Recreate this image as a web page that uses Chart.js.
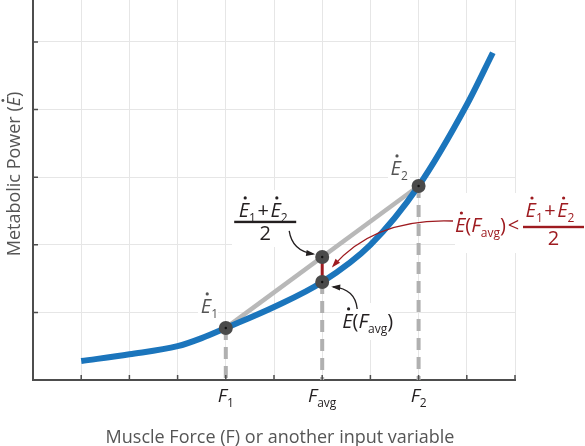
<!DOCTYPE html>
<html>
<head>
<meta charset="utf-8">
<script src="https://cdn.jsdelivr.net/npm/chart.js@4.4.0/dist/chart.umd.min.js"></script>
<style>
  html, body { margin: 0; padding: 0; background: #fff; }
</style>
</head>
<body>
<canvas id="chart" width="585" height="446"></canvas>
<script>
// blue curve (force on x, metabolic power on y)
var curveF = [1, 2, 3, 3.5, 4, 5, 6, 7, 8, 9, 9.54];
var curveE = [0.28, 0.38, 0.50, 0.62, 0.77, 1.08, 1.45, 2.0, 2.87, 4.07, 4.84];

// the three marked forces: F1, Favg, F2 and the power at each
var markF = [4, 6, 8];
var markE = [0.77, 1.45, 2.87];
var markSub = ['1', 'avg', '2'];

// grid steps
var gridF = [0, 1, 2, 3, 4, 5, 6, 7, 8, 9, 10];
var gridE = [0, 1, 2, 3, 4, 5];

var FONT = '"Open Sans", sans-serif';
var RED = '#9e1b20';
var midE = (markE[0] + markE[2]) / 2;

function pts(xs, ys) {
    return xs.map(function (x, i) { return { x: x, y: ys[i] }; });
}

// dashed drops from each marked point to the axis
var drops = markF.map(function (f, i) {
    return {
        data: [{ x: f, y: markE[i] }, { x: f, y: 0 }],
        showLine: true,
        borderColor: '#b0b0b0',
        borderWidth: 4,
        borderDash: [12, 7],
        pointRadius: 0,
        order: 5
    };
});

var datasets = drops.concat([
    {
        // chord between E1 and E2
        data: pts([markF[0], markF[2]], [markE[0], markE[2]]),
        showLine: true,
        borderColor: '#b8b8b8',
        borderWidth: 4.5,
        pointRadius: 0,
        order: 4
    },
    {
        data: pts(curveF, curveE),
        showLine: true,
        borderColor: '#1b75bc',
        borderWidth: 6,
        borderCapStyle: 'butt',
        cubicInterpolationMode: 'monotone',
        pointRadius: 0,
        order: 3
    },
    {
        // gap between the chord and the curve at Favg
        data: [{ x: markF[1], y: markE[1] }, { x: markF[1], y: midE }],
        showLine: true,
        borderColor: RED,
        borderWidth: 3,
        pointRadius: 0,
        order: 2
    },
    {
        data: pts(markF.concat([markF[1]]), markE.concat([midE])),
        pointRadius: 7,
        pointBackgroundColor: '#4a4a4a',
        pointBorderWidth: 0,
        order: 1
    },
    {
        data: pts(markF.concat([markF[1]]), markE.concat([midE])),
        pointRadius: 1.2,
        pointBackgroundColor: '#111',
        pointBorderWidth: 0,
        order: 0
    }
]);

// --- little helpers for text with dots and subscripts ---
function runFont(r, size) {
    var s = r.sub ? Math.round(size * 0.62) : size;
    return (r.it ? 'italic ' : '') + s + 'px ' + FONT;
}
function richWidth(ctx, runs, size) {
    var w = 0;
    runs.forEach(function (r) {
        ctx.font = runFont(r, size);
        w += ctx.measureText(r.t).width + (r.gap || 0);
    });
    return w;
}
function drawRich(ctx, runs, x, y, size, color, align) {
    var w = richWidth(ctx, runs, size);
    if (align === 'center') x -= w / 2;
    ctx.fillStyle = color;
    ctx.textAlign = 'left';
    ctx.textBaseline = 'alphabetic';
    runs.forEach(function (r) {
        ctx.font = runFont(r, size);
        var tw = ctx.measureText(r.t).width;
        var yy = r.sub ? y + size * 0.26 : y;
        ctx.fillText(r.t, x + (r.gap || 0) / 2, yy);
        if (r.dot) {
            ctx.beginPath();
            ctx.arc(x + tw * 0.62, y - size * 0.95, size * 0.08, 0, 2 * Math.PI);
            ctx.fill();
        }
        x += tw + (r.gap || 0);
    });
    return w;
}
function eRuns(sub) {
    return [{ t: 'E', it: true, dot: true }, { t: sub, sub: true }];
}
var sumRuns = eRuns('1').concat([{ t: '+', gap: 3 }], eRuns('2'));
var eAvgRuns = [{ t: 'E', it: true, dot: true }, { t: '(' }, { t: 'F', it: true }, { t: 'avg', sub: true }, { t: ')' }];

function drawFrac(ctx, numX, numY, barY, barL, barR, size, color) {
    drawRich(ctx, sumRuns, numX, numY, size, color, 'center');
    ctx.fillRect(barL, barY - 1.2, barR - barL, 2.4);
    ctx.font = size + 'px ' + FONT;
    ctx.textAlign = 'center';
    ctx.fillText('2', (barL + barR) / 2, barY + 18);
}
function arrow(ctx, x0, y0, cx, cy, x1, y1, color) {
    ctx.strokeStyle = color;
    ctx.fillStyle = color;
    ctx.lineWidth = 1.3;
    ctx.beginPath();
    ctx.moveTo(x0, y0);
    ctx.quadraticCurveTo(cx, cy, x1, y1);
    ctx.stroke();
    var a = Math.atan2(y1 - cy, x1 - cx);
    ctx.beginPath();
    ctx.moveTo(x1 + 2 * Math.cos(a), y1 + 2 * Math.sin(a));
    ctx.lineTo(x1 - 7 * Math.cos(a) + 3 * Math.sin(a), y1 - 7 * Math.sin(a) - 3 * Math.cos(a));
    ctx.lineTo(x1 - 7 * Math.cos(a) - 3 * Math.sin(a), y1 - 7 * Math.sin(a) + 3 * Math.cos(a));
    ctx.closePath();
    ctx.fill();
}

var annotate = {
    id: 'annotate',
    beforeDatasetsDraw: function (chart) {
        var ctx = chart.ctx;
        ctx.save();
        ctx.fillStyle = '#fff';
        // white patches behind the labels
        ctx.fillRect(232, 190, 68, 57);
        ctx.fillRect(455, 193, 130, 60);
        ctx.fillRect(388, 148, 22, 34);
        ctx.fillRect(198, 287, 20, 32);
        ctx.fillRect(340, 303, 52, 37);
        ctx.restore();
    },
    afterDatasetsDraw: function (chart) {
        var ctx = chart.ctx;
        var xs = chart.scales.x, ys = chart.scales.y;
        var area = chart.chartArea;
        var p1 = { x: xs.getPixelForValue(markF[0]), y: ys.getPixelForValue(markE[0]) };
        var pm = { x: xs.getPixelForValue(markF[1]), y: ys.getPixelForValue(markE[1]) };
        var pu = { x: xs.getPixelForValue(markF[1]), y: ys.getPixelForValue(midE) };
        var p2 = { x: xs.getPixelForValue(markF[2]), y: ys.getPixelForValue(markE[2]) };
        ctx.save();

        // tick marks, drawn inwards
        ctx.strokeStyle = '#4d4d4d';
        ctx.lineWidth = 1.5;
        ctx.beginPath();
        gridF.slice(1).forEach(function (f) {
            var x = xs.getPixelForValue(f);
            ctx.moveTo(x, area.bottom);
            ctx.lineTo(x, area.bottom - 5);
        });
        gridE.slice(1).forEach(function (e) {
            var y = ys.getPixelForValue(e);
            ctx.moveTo(area.left, y);
            ctx.lineTo(area.left + 5, y);
        });
        ctx.stroke();

        // point labels
        drawRich(ctx, eRuns('1'), p1.x - 25, p1.y - 15, 20, '#555');
        drawRich(ctx, eRuns('2'), p2.x - 28, p2.y - 11, 20, '#555');
        drawFrac(ctx, pu.x - 59, pu.y - 40, pu.y - 35, pu.x - 88, pu.x - 26, 20, '#231f20');
        arrow(ctx, pu.x - 33, pu.y - 26, pu.x - 30, pu.y - 6, pu.x - 9, pu.y - 3, '#231f20');
        drawRich(ctx, eAvgRuns, pm.x + 20, pm.y + 46, 20, '#231f20');
        arrow(ctx, pm.x + 35, pm.y + 27, pm.x + 33, pm.y + 7, pm.x + 11, pm.y + 5, '#231f20');

        // red inequality
        drawRich(ctx, eAvgRuns.concat([{ t: '<', gap: 4 }]), 455, 232, 20, RED);
        drawFrac(ctx, 550, 217, 227, 523, 584, 20, RED);
        arrow(ctx, 453, 221, 375, 218, pu.x + 11, pu.y + 9, RED);

        // force labels under the axis
        markF.forEach(function (f, i) {
            drawRich(ctx, [{ t: 'F', it: true }, { t: markSub[i], sub: true }],
                xs.getPixelForValue(f), area.bottom + 22, 19, '#231f20', 'center');
        });

        // axis titles
        ctx.fillStyle = '#555';
        ctx.font = '18px ' + FONT;
        ctx.textAlign = 'center';
        ctx.fillText('Muscle Force (F) or another input variable', (area.left + area.right) / 2 + 6, 443);
        ctx.translate(20, 174);
        ctx.rotate(-Math.PI / 2);
        var yRuns = [{ t: 'Metabolic Power (' }, { t: 'E', it: true, dot: true }, { t: ')' }];
        drawRich(ctx, yRuns, 0, 0, 18, '#555', 'center');
        ctx.restore();
    }
};

var ctx = document.getElementById('chart').getContext('2d');
var chart = new Chart(ctx, {
    type: 'scatter',
    data: { datasets: datasets },
    options: {
        responsive: false,
        animation: false,
        layout: { autoPadding: false, padding: { left: 33, right: 70, top: 0, bottom: 66 } },
        plugins: { legend: { display: false }, tooltip: { enabled: false } },
        scales: {
            x: {
                type: 'linear', min: 0, max: 10,
                afterBuildTicks: function (s) { s.ticks = gridF.map(function (v) { return { value: v }; }); },
                ticks: { display: false },
                grid: { color: '#e6e6e6', lineWidth: 1, drawTicks: false },
                border: { color: '#4d4d4d', width: 2 }
            },
            y: {
                type: 'linear', min: 0, max: 5.62,
                afterBuildTicks: function (s) { s.ticks = gridE.map(function (v) { return { value: v }; }); },
                ticks: { display: false },
                grid: { color: '#e6e6e6', lineWidth: 1, drawTicks: false },
                border: { color: '#4d4d4d', width: 2 }
            }
        }
    },
    plugins: [annotate]
});
</script>
</body>
</html>
